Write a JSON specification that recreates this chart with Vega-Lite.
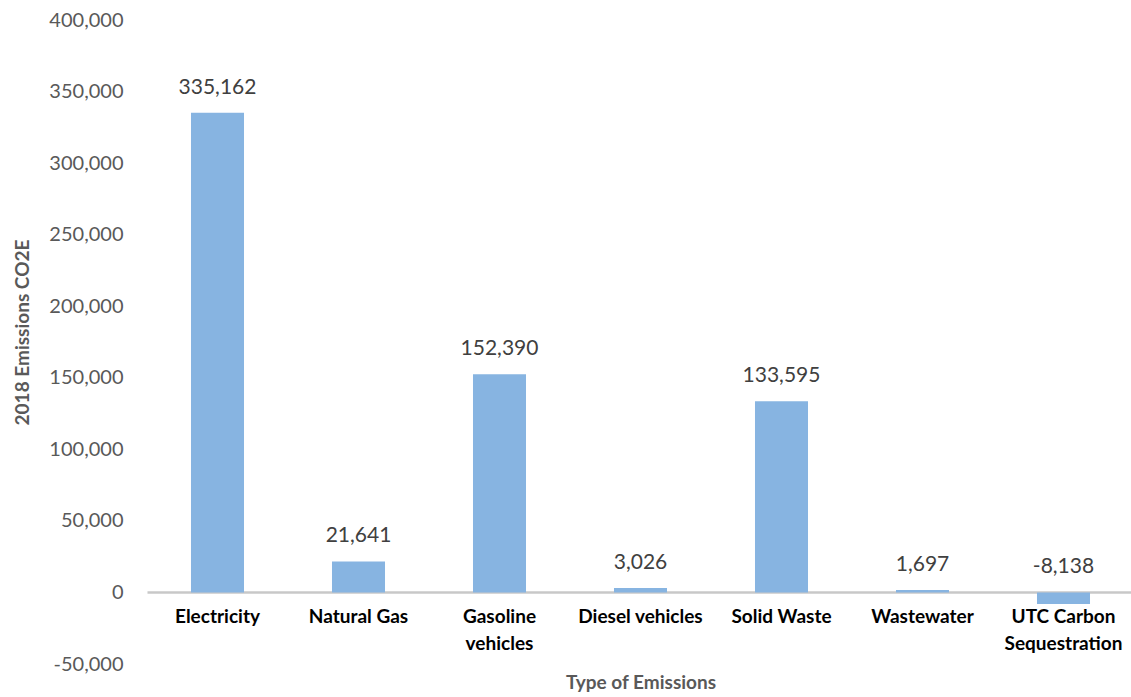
{
  "$schema": "https://vega.github.io/schema/vega-lite/v6.json",
  "width": 987,
  "height": 644,
  "autosize": {"type": "none"},
  "padding": {"left": 147, "top": 20, "right": 0, "bottom": 33},
  "background": "white",
  "config": {"view": {"stroke": null}, "font": "Lato"},
  "data": {
    "values": [
      {"type": "Electricity", "value": 335162},
      {"type": "Natural Gas", "value": 21641},
      {"type": "Gasoline vehicles", "value": 152390},
      {"type": "Diesel vehicles", "value": 3026},
      {"type": "Solid Waste", "value": 133595},
      {"type": "Wastewater", "value": 1697},
      {"type": "UTC Carbon Sequestration", "value": -8138}
    ]
  },
  "transform": [
    {"calculate": "max(datum.value, 0)", "as": "labelPos"},
    {"calculate": "replace(format(datum.value, ','), '\u2212', '-')", "as": "labelText"}
  ],
  "encoding": {
    "x": {
      "field": "type",
      "type": "nominal",
      "sort": null,
      "scale": {"paddingInner": 0.624, "paddingOuter": 0.312},
      "axis": {
        "title": "Type of Emissions",
        "orient": "bottom",
        "offset": -72,
        "domainColor": "#c8c8c8",
        "domainWidth": 2.5,
        "ticks": false,
        "tickSize": 0,
        "labelAngle": 0,
        "labelFont": "Lato",
        "labelFontWeight": "bold",
        "labelFontSize": 19,
        "labelColor": "#000000",
        "labelPadding": 15,
        "labelLineHeight": 27,
        "labelExpr": "datum.value == 'Gasoline vehicles' ? ['Gasoline', 'vehicles'] : datum.value == 'UTC Carbon Sequestration' ? ['UTC Carbon', 'Sequestration'] : datum.value",
        "titleFont": "Lato",
        "titleFontWeight": "bold",
        "titleFontSize": 19,
        "titleColor": "#595959",
        "titleY": 90,
        "titleBaseline": "middle"
      }
    }
  },
  "layer": [
    {
      "mark": {"type": "bar", "color": "#87b4e1"},
      "encoding": {
        "y": {
          "field": "value",
          "type": "quantitative",
          "scale": {"domain": [-50000, 400000], "nice": false},
          "axis": {
            "title": "2018 Emissions CO2E",
            "values": [-50000, 0, 50000, 100000, 150000, 200000, 250000, 300000, 350000, 400000],
            "labelExpr": "replace(format(datum.value, ','), '\u2212', '-')",
            "domain": false,
            "ticks": false,
            "grid": false,
            "labelPadding": 24,
            "labelFont": "Lato",
            "labelFontSize": 20,
            "labelColor": "#595959",
            "titleFont": "Lato",
            "titleFontWeight": "bold",
            "titleFontSize": 19,
            "titleColor": "#595959",
            "titleX": -125,
            "titleY": 312,
            "titleAlign": "center",
            "titleBaseline": "middle",
            "titleAngle": -90
          }
        }
      }
    },
    {
      "mark": {"type": "text", "baseline": "middle", "dy": -25, "fontSize": 21, "font": "Lato", "color": "#404040"},
      "encoding": {
        "y": {"field": "labelPos", "type": "quantitative"},
        "text": {"field": "labelText", "type": "nominal"}
      }
    }
  ]
}
